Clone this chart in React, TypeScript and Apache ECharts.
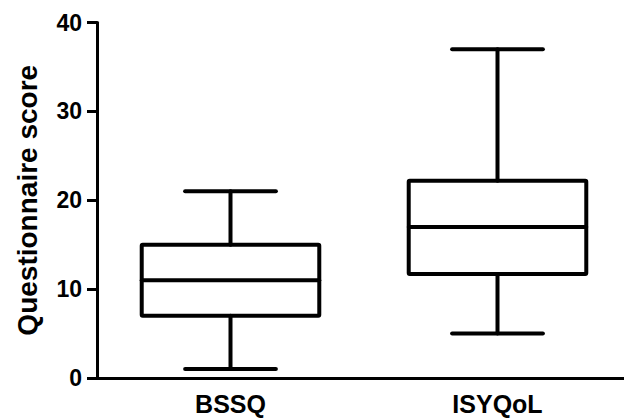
import React, { useEffect, useRef } from "react";
import * as echarts from "echarts";

const categories = ["BSSQ", "ISYQoL"];
// [min, Q1, median, Q3, max]
const boxValues = [
  [1, 7, 11, 15, 21],
  [5, 11.7, 17, 22.2, 37],
];
const yTicks = [0, 10, 20, 30, 40];

const FONT = "'Liberation Sans', Arial, Helvetica, sans-serif";

export default function App() {
  const ref = useRef<HTMLDivElement>(null);
  useEffect(() => {
    if (!ref.current) return;
    const chart = echarts.init(ref.current, null, { renderer: "svg" });
    const data = boxValues.map((v, i) => [i, ...v]);
    chart.setOption({
      animation: false,
      grid: { left: 97, right: 9, top: 22.5, bottom: 41, containLabel: false },
      xAxis: {
        type: "category",
        data: categories,
        boundaryGap: true,
        axisLine: { lineStyle: { color: "#000", width: 3 } },
        axisTick: { alignWithLabel: true, length: 9, lineStyle: { color: "#000", width: 3 } },
        axisLabel: { color: "#000", fontSize: 25, fontWeight: "bold", fontFamily: FONT, margin: 13 },
        splitLine: { show: false },
      },
      yAxis: {
        type: "value",
        min: yTicks[0],
        max: yTicks[yTicks.length - 1],
        interval: 10,
        name: "Questionnaire score",
        nameLocation: "middle",
        nameGap: 56,
        nameTextStyle: { color: "#000", fontSize: 28, fontWeight: "bold", fontFamily: FONT },
        axisLine: { show: true, lineStyle: { color: "#000", width: 3 } },
        axisTick: { show: true, length: 10, lineStyle: { color: "#000", width: 3 } },
        axisLabel: { color: "#000", fontSize: 23, fontWeight: "bold", fontFamily: FONT, margin: 15 },
        splitLine: { show: false },
      },
      series: [
        {
          type: "custom",
          data,
          encode: { x: 0, y: [1, 2, 3, 4, 5] },
          renderItem: (params: any, api: any) => {
            const idx = api.value(0);
            const vals = [1, 2, 3, 4, 5].map((d) => api.value(d));
            const pts = vals.map((v) => api.coord([idx, v]));
            const cx = pts[0][0];
            const band = api.size([1, 0])[0];
            const boxW = band * 0.665;
            const capW = band * 0.34;
            const y = pts.map((p: number[]) => p[1]);
            const style = { stroke: "#000", lineWidth: 4, fill: null, lineCap: "round" };
            return {
              type: "group",
              children: [
                {
                  type: "rect",
                  shape: { x: cx - boxW / 2, y: y[3], width: boxW, height: y[1] - y[3], r: 1 },
                  style: { stroke: "#000", lineWidth: 4, fill: "#fff", lineJoin: "round" },
                },
                { type: "line", shape: { x1: cx - boxW / 2, y1: y[2], x2: cx + boxW / 2, y2: y[2] }, style },
                { type: "line", shape: { x1: cx, y1: y[3], x2: cx, y2: y[4] }, style },
                { type: "line", shape: { x1: cx, y1: y[1], x2: cx, y2: y[0] }, style },
                { type: "line", shape: { x1: cx - capW / 2, y1: y[4], x2: cx + capW / 2, y2: y[4] }, style },
                { type: "line", shape: { x1: cx - capW / 2, y1: y[0], x2: cx + capW / 2, y2: y[0] }, style },
              ],
            };
          },
        },
      ],
    });
    return () => chart.dispose();
  }, []);
  return (
    <div style={{ width: 624, height: 419, position: "absolute", left: 0, top: 0, overflow: "hidden" }}>
      <div ref={ref} style={{ width: 640, height: 419 }} />
    </div>
  );
}
